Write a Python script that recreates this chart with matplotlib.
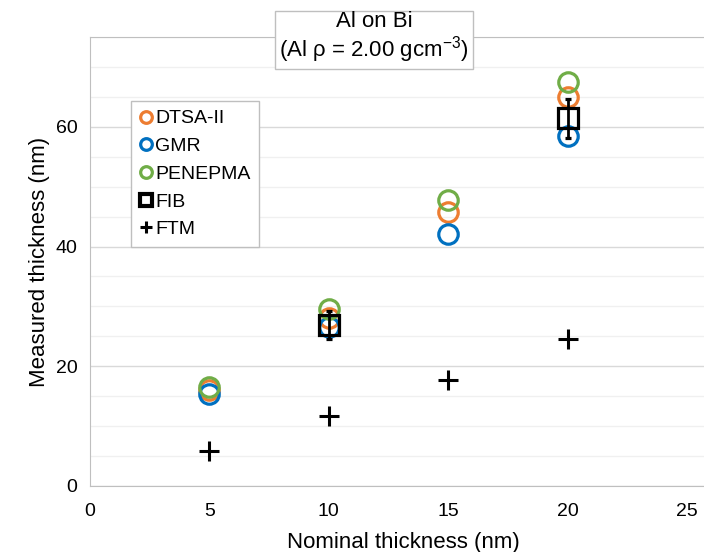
import matplotlib
matplotlib.use("Agg")
from matplotlib import pyplot as plt
from matplotlib.lines import Line2D
from matplotlib.ticker import MultipleLocator

plt.rcParams['font.family'] = ['Liberation Sans', 'DejaVu Sans']

nominal = [5, 10, 15, 20]
dtsa = [16.0, 28.0, 45.8, 64.9]
gmr = [15.3, 26.5, 42.1, 58.4]
penepma = [16.6, 29.5, 47.7, 67.4]
fib_x = [10, 20]
fib = [26.9, 61.4]
fib_err = [2.3, 3.2]
ftm = [5.9, 11.7, 17.7, 24.6]

grey = '#bfbfbf'

fig = plt.figure(figsize=(7.04, 5.52), dpi=100)
ax = fig.add_axes([90/704, 66/552, 627/704, 449/552])

ms = 14
mew = 2.3
h1, = ax.plot(nominal, dtsa, 'o', ms=ms, mfc='none', mec='#ED7D31', mew=mew, label='DTSA-II', zorder=3)
h2, = ax.plot(nominal, gmr, 'o', ms=ms, mfc='none', mec='#0070C0', mew=mew, label='GMR', zorder=3)
h3, = ax.plot(nominal, penepma, 'o', ms=ms, mfc='none', mec='#70AD47', mew=mew, label='PENEPMA', zorder=3)
ax.errorbar(fib_x, fib, yerr=fib_err, fmt='s', ms=ms, mfc='none', mec='black', mew=mew,
            ecolor='black', elinewidth=2, capsize=2.5, capthick=2, zorder=4)
h5, = ax.plot(nominal, ftm, '+', ms=ms, color='black', mew=2.2, label='FTM', zorder=4)
h4 = Line2D([], [], marker='s', ls='none', ms=ms, mfc='none', mec='black', mew=mew * 1.3, label='FIB')

ax.set_xlim(0, 26.25)
ax.set_ylim(0, 75)
ax.set_xticks([0, 5, 10, 15, 20, 25])
ax.set_yticks([0, 20, 40, 60])
ax.yaxis.set_minor_locator(MultipleLocator(5))
ax.tick_params(axis='both', which='both', length=0, labelsize=14, colors='black')
ax.tick_params(axis='x', pad=12)
ax.tick_params(axis='y', pad=9)
ax.grid(True, which='major', axis='y', color='#d9d9d9', lw=1)
ax.grid(True, which='minor', axis='y', color='#f0f0f0', lw=1)
ax.set_axisbelow(True)
for side in ['left', 'bottom', 'top', 'right']:
    ax.spines[side].set_color(grey)
ax.spines['right'].set_visible(False)

ax.set_xlabel('Nominal thickness (nm)', fontsize=16, labelpad=9)
ax.set_ylabel('Measured thickness (nm)', fontsize=16, labelpad=4)

leg = ax.legend(handles=[h1, h2, h3, h4, h5], loc='upper left',
                bbox_to_anchor=(131/704, 1 - 101/552), bbox_transform=fig.transFigure,
                fontsize=14, markerscale=0.6, handlelength=0.6, handletextpad=0.2,
                borderpad=0.45, borderaxespad=0, labelspacing=0.52, fancybox=False, framealpha=1)
leg.get_frame().set_edgecolor(grey)
leg.get_frame().set_linewidth(1)

fig.text(374/704, 1 - 38/552, 'Al on Bi\n(Al \u03c1 = 2.00 gcm$^{\\mathregular{-3}}$)', ha='center', va='center',
         fontsize=16, linespacing=1.05,
         bbox=dict(boxstyle='square,pad=0.2', fc='white', ec=grey, lw=1))

fig.savefig('out.png', dpi=100)
